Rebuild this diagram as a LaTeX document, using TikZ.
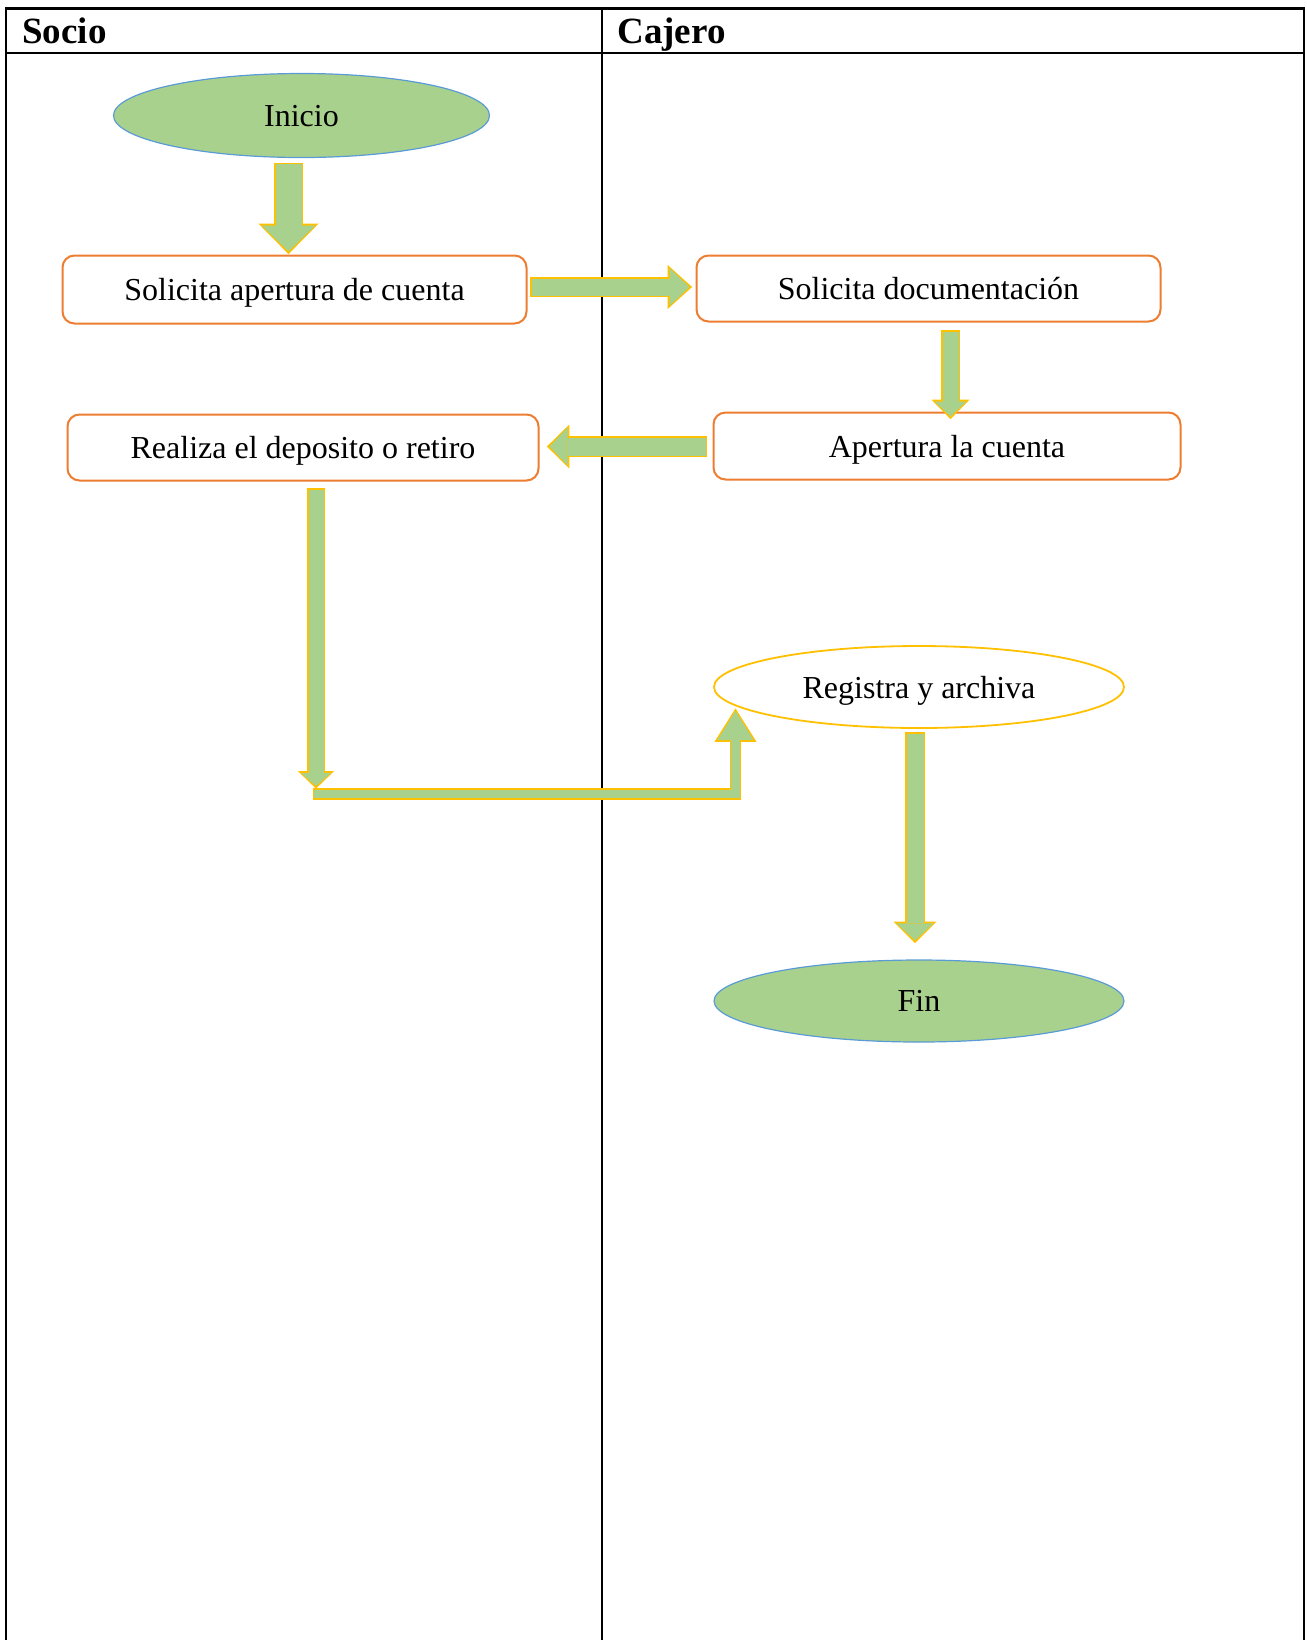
\documentclass[tikz,border=0pt]{standalone}
\usepackage{fontspec}
\setmainfont{Liberation Serif}
\usetikzlibrary{shapes.geometric,arrows.meta,calc}
\definecolor{verde}{HTML}{A9D18E}
\definecolor{azul}{HTML}{5B9BD5}
\definecolor{naranja}{HTML}{ED7D31}
\definecolor{amarillo}{HTML}{FFC000}
\tikzset{
  carril/.style={draw=black, line width=1.1pt},
  titulo/.style={anchor=base west, inner sep=0pt, font=\fontsize{18.5}{22}\selectfont\bfseries},
  terminal/.style={ellipse, fill=verde, draw=azul, line width=0.6pt, minimum width=188pt, minimum height=42pt, inner sep=0pt, text depth=0pt, font=\fontsize{16}{19}\selectfont},
  caja/.style={rectangle, rounded corners=6pt, draw=naranja, line width=1pt, fill=white, inner sep=0pt, text depth=0pt, font=\fontsize{16}{19}\selectfont},
  registro/.style={ellipse, draw=amarillo, line width=0.9pt, fill=white, minimum width=205pt, minimum height=41pt, inner sep=0pt, text depth=0pt, font=\fontsize{16}{19}\selectfont},
  flecha/.style n args={3}{draw=verde, line width=#1, -{Triangle[width=#2, length=#3, line width=0pt]},
    preaction={draw=amarillo, line width=#1+1.5pt, shorten <=-0.75pt, shorten >=-1.3pt,
      -{Triangle[width=#2+3pt, length=#3+2.2pt, line width=0pt]}}}
}
\begin{document}
\begin{tikzpicture}[x=0.5pt, y=-0.5pt]
\useasboundingbox (0,0) rectangle (1307,1640);
\draw[carril] (6,1640) -- (6,8.5) -- (1304,8.5) -- (1304,1640);
\draw[carril] (6,53) -- (1304,53);
\draw[carril] (602,8.5) -- (602,1640);
\node[titulo] (socio) at (22,43) {Socio};
\node[titulo] (cajero) at (617,43) {Cajero};
\node[terminal] (inicio) at (301.5,115.5) {Inicio};
\node[caja, minimum width=232pt, minimum height=34pt] (solic) at (294.5,289.5) {Solicita apertura de cuenta};
\node[caja, minimum width=232pt, minimum height=33pt] (doc) at (928.5,288.5) {Solicita documentación};
\node[caja, minimum width=233.5pt, minimum height=33.5pt] (apert) at (947,446) {Apertura la cuenta};
\node[caja, minimum width=235.5pt, minimum height=33pt] (realiza) at (303,447.5) {Realiza el deposito o retiro};
\node[registro] (registra) at (919,687) {Registra y archiva};
\node[terminal, minimum width=205pt, minimum height=41pt] (fin) at (919,1001) {Fin};
\coordinate (codo) at (316,786);
\draw[flecha={13pt}{27pt}{13pt}] ($(inicio.south)+(-13,6)$) -- ($(solic.north)+(-6,-3)$);
\draw[flecha={8.5pt}{19pt}{10pt}] ($(solic.east)+(4,-2.5)$) -- ($(doc.west)+(-6,-1.5)$);
\draw[flecha={8pt}{16pt}{7.5pt}] ($(doc.south)+(22,9)$) -- ($(apert.north)+(3.5,5)$);
\draw[flecha={9pt}{19pt}{9pt}] ($(apert.west)+(-7,0.5)$) -- ($(realiza.east)+(10,-1)$);
\draw[flecha={7.5pt}{15pt}{6.5pt}] ($(realiza.south)+(13,8)$) -- (codo);
\draw[flecha={4.25pt}{18pt}{14.5pt}] ($(codo)+(-2,8)$) -| ($(registra.center)+(-183.5,24)$);
\draw[flecha={8.5pt}{18.5pt}{8.5pt}] ($(registra.south)+(-4,5)$) -- ($(fin.north)+(-4,-19)$);
\end{tikzpicture}
\end{document}
